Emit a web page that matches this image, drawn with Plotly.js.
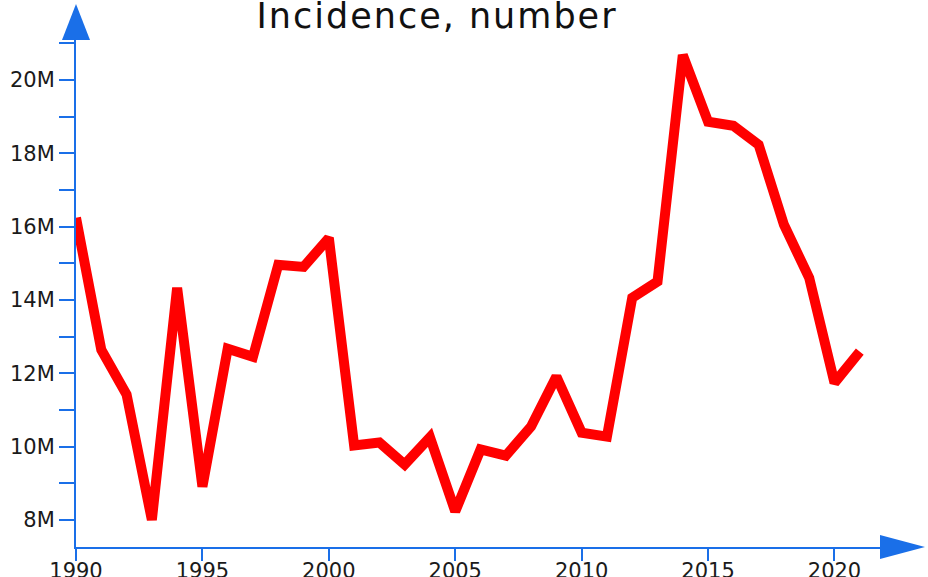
<!DOCTYPE html>
<html>
<head>
<meta charset="utf-8">
<script src="https://cdn.plot.ly/plotly-3.0.1.min.js"></script>
<style>
html,body{margin:0;padding:0;background:#fff;}
#chart{width:928px;height:577px;}
#chart .gtitle{letter-spacing:2px;}
</style>
</head>
<body>
<div id="chart"></div>
<script>
const years = [1990,1991,1992,1993,1994,1995,1996,1997,1998,1999,2000,2001,2002,2003,2004,2005,2006,2007,2008,2009,2010,2011,2012,2013,2014,2015,2016,2017,2018,2019,2020,2021];
const incidence = [16.24,12.64,11.42,8.0,14.33,8.91,12.67,12.45,14.96,14.9,15.69,10.03,10.11,9.51,10.25,8.23,9.92,9.75,10.55,11.91,10.38,10.27,14.06,14.5,20.68,18.86,18.75,18.23,16.05,14.6,11.74,12.59].map(v => v * 1e6);
const xTickVals = [1990,1995,2000,2005,2010,2015,2020];
const titleText = "Incidence, number";

const W = 928, H = 577;
const M = {l: 76, r: 48, t: 40, b: 30};
const axisColor = "#1a6fe8";
const pw = W - M.l - M.r, ph = H - M.t - M.b;
const px = x => (x - M.l) / pw;
const py = y => (H - M.b - y) / ph;

const upArrow = `M ${px(62)} ${py(40)} L ${px(76)} ${py(4)} L ${px(90)} ${py(40)} Z`;
const rightArrow = `M ${px(880)} ${py(535)} L ${px(925)} ${py(547)} L ${px(880)} ${py(559)} Z`;

const trace = {
  x: years, y: incidence, type: "scatter", mode: "lines",
  line: {color: "#ff0000", width: 10, shape: "linear"},
  cliponaxis: false, hoverinfo: "skip"
};

const layout = {
  width: W, height: H,
  margin: M,
  paper_bgcolor: "#ffffff", plot_bgcolor: "#ffffff",
  showlegend: false,
  title: {
    text: titleText, xref: "container", yref: "container",
    x: 437 / W, xanchor: "center", y: 1 - 16 / H, yanchor: "middle",
    font: {family: "DejaVu Sans, Verdana, sans-serif", size: 35, color: "#111"}
  },
  xaxis: {
    range: [1990, 2021.8], tickmode: "array", tickvals: xTickVals,
    showgrid: false, zeroline: false,
    showline: true, linecolor: axisColor, linewidth: 2,
    ticks: "outside", ticklen: 12, tickwidth: 2, tickcolor: axisColor,
    ticklabelstandoff: -8,
    tickfont: {family: "DejaVu Sans, Verdana, sans-serif", size: 21, color: "#1a1a1a"}
  },
  yaxis: {
    range: [7.26e6, 21.09e6], tick0: 0, dtick: 2e6, tickformat: "~s",
    showgrid: false, zeroline: false,
    showline: true, linecolor: axisColor, linewidth: 2,
    ticks: "outside", ticklen: 15, tickwidth: 2, tickcolor: axisColor,
    minor: {dtick: 1e6, ticks: "outside", ticklen: 15, tickwidth: 2, tickcolor: axisColor, showgrid: false},
    tickfont: {family: "DejaVu Sans, Verdana, sans-serif", size: 21, color: "#1a1a1a"}
  },
  shapes: [
    {type: "path", xref: "paper", yref: "paper", path: upArrow, fillcolor: axisColor, line: {width: 0}},
    {type: "path", xref: "paper", yref: "paper", path: rightArrow, fillcolor: axisColor, line: {width: 0}}
  ]
};

Plotly.newPlot("chart", [trace], layout, {staticPlot: true, displayModeBar: false});
</script>
</body>
</html>
